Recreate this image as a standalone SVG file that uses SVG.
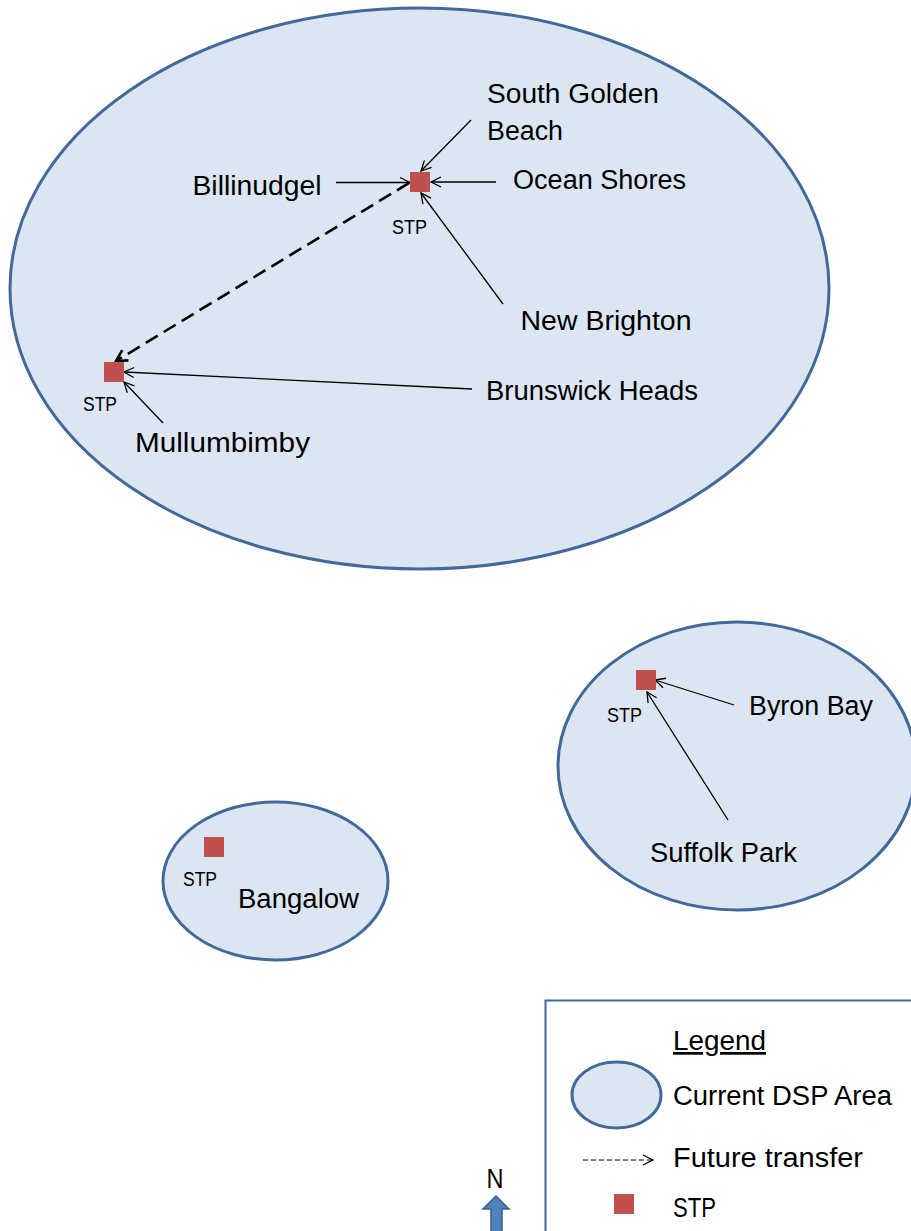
<svg xmlns="http://www.w3.org/2000/svg" width="911" height="1231" viewBox="0 0 911 1231">
<defs>
<style>
.area{fill:#DCE6F2;stroke:#41699B;stroke-width:3}
.stp{fill:#C0504D}
.lbl{font-family:"Liberation Sans",Arial,sans-serif;font-size:27px;fill:#000}
.sm{font-family:"Liberation Sans",Arial,sans-serif;font-size:20px;fill:#000}
.ln{stroke:#000;stroke-width:1.3;fill:none}
.dash{stroke:#000;stroke-width:2.6;fill:none;stroke-dasharray:14 7}
</style>
<marker id="ah" markerUnits="userSpaceOnUse" markerWidth="14" markerHeight="14" viewBox="-12 -7 14 14" refX="0" refY="0" orient="auto">
<path d="M-10,-5 L0,0 L-10,5" fill="none" stroke="#000" stroke-width="1.3"/>
</marker>
<marker id="ahb" markerUnits="userSpaceOnUse" markerWidth="18" markerHeight="18" viewBox="-14 -9 18 18" refX="0" refY="0" orient="auto">
<path d="M-11,-6 L0,0 L-11,6" fill="none" stroke="#000" stroke-width="2.6"/>
</marker>
</defs>
<rect width="911" height="1231" fill="#fff"/>

<g id="area-north">
<ellipse class="area" cx="419.5" cy="288.5" rx="409.5" ry="280.5"/>
</g>
<g id="area-byron">
<ellipse class="area" cx="737" cy="766" rx="179" ry="144"/>
</g>
<g id="area-bangalow">
<ellipse class="area" cx="275.5" cy="881" rx="112.5" ry="79"/>
</g>

<g id="connectors">
<line class="dash" x1="409" y1="183" x2="116" y2="361" marker-end="url(#ahb)"/>
<line class="ln" x1="471" y1="120" x2="421" y2="171" marker-end="url(#ah)"/>
<line class="ln" x1="496" y1="182" x2="431" y2="182" marker-end="url(#ah)"/>
<line class="ln" x1="336" y1="182.5" x2="410" y2="182.5" marker-end="url(#ah)"/>
<line class="ln" x1="503" y1="304" x2="421" y2="193" marker-end="url(#ah)"/>
<line class="ln" x1="472" y1="389" x2="124" y2="372" marker-end="url(#ah)"/>
<line class="ln" x1="163" y1="423" x2="124" y2="382" marker-end="url(#ah)"/>
<line class="ln" x1="734" y1="705" x2="655" y2="680" marker-end="url(#ah)"/>
<line class="ln" x1="728" y1="820" x2="647" y2="692" marker-end="url(#ah)"/>
</g>

<g id="stp-north">
<rect class="stp" x="410" y="172" width="20" height="20"/>
<text class="sm" x="392" y="234" textLength="35" lengthAdjust="spacingAndGlyphs">STP</text>
</g>
<g id="stp-mullumbimby">
<rect class="stp" x="104" y="362" width="20" height="20"/>
<text class="sm" x="83" y="411" textLength="34" lengthAdjust="spacingAndGlyphs">STP</text>
</g>
<g id="stp-byron">
<rect class="stp" x="636" y="670" width="20" height="20"/>
<text class="sm" x="607" y="722" textLength="35" lengthAdjust="spacingAndGlyphs">STP</text>
</g>
<g id="stp-bangalow">
<rect class="stp" x="204" y="837" width="20" height="20"/>
<text class="sm" x="183" y="886" textLength="34" lengthAdjust="spacingAndGlyphs">STP</text>
</g>

<g id="south-golden-beach">
<text class="lbl" x="487" y="103" textLength="172" lengthAdjust="spacingAndGlyphs">South Golden</text>
<text class="lbl" x="487" y="139.5" textLength="76" lengthAdjust="spacingAndGlyphs">Beach</text>
</g>
<g id="ocean-shores"><text class="lbl" x="513" y="189" textLength="173" lengthAdjust="spacingAndGlyphs">Ocean Shores</text></g>
<g id="billinudgel"><text class="lbl" x="192.5" y="194.5" textLength="129" lengthAdjust="spacingAndGlyphs">Billinudgel</text></g>
<g id="new-brighton"><text class="lbl" x="520.5" y="329.5" textLength="171" lengthAdjust="spacingAndGlyphs">New Brighton</text></g>
<g id="brunswick-heads"><text class="lbl" x="486" y="400" textLength="212" lengthAdjust="spacingAndGlyphs">Brunswick Heads</text></g>
<g id="mullumbimby"><text class="lbl" x="135" y="452" textLength="175" lengthAdjust="spacingAndGlyphs">Mullumbimby</text></g>
<g id="byron-bay"><text class="lbl" x="749" y="715" textLength="124" lengthAdjust="spacingAndGlyphs">Byron Bay</text></g>
<g id="suffolk-park"><text class="lbl" x="650" y="862" textLength="147" lengthAdjust="spacingAndGlyphs">Suffolk Park</text></g>
<g id="bangalow"><text class="lbl" x="238" y="908" textLength="121" lengthAdjust="spacingAndGlyphs">Bangalow</text></g>

<g id="legend">
<rect x="545.5" y="1000.5" width="380" height="250" fill="#fff" stroke="#41699B" stroke-width="2"/>
<text class="lbl" x="673" y="1050" textLength="93" lengthAdjust="spacingAndGlyphs" text-decoration="underline">Legend</text>
<ellipse class="area" cx="616.5" cy="1095" rx="44.5" ry="33"/>
<text class="lbl" x="673" y="1105" textLength="219" lengthAdjust="spacingAndGlyphs">Current DSP Area</text>
<line x1="583" y1="1160" x2="653" y2="1160" stroke="#000" stroke-width="1" stroke-dasharray="5 3" marker-end="url(#ah)"/>
<text class="lbl" x="673" y="1167" textLength="190" lengthAdjust="spacingAndGlyphs">Future transfer</text>
<rect class="stp" x="614" y="1194" width="20" height="20"/>
<text class="lbl" x="673" y="1217" textLength="43" lengthAdjust="spacingAndGlyphs">STP</text>
</g>

<g id="north-arrow">
<text class="lbl" x="486.5" y="1188" font-size="25" textLength="17" lengthAdjust="spacingAndGlyphs">N</text>
<polygon points="496,1196 509,1209 502,1209 502,1233 491,1233 491,1209 483,1209" fill="#4F81BD" stroke="#385D8A" stroke-width="1.5"/>
</g>
</svg>
